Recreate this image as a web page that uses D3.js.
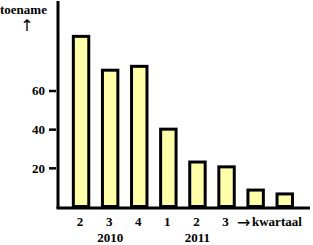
<!DOCTYPE html>
<html>
<head>
<meta charset="utf-8">
<script src="https://cdn.jsdelivr.net/npm/d3@7"></script>
<style>
body{margin:0;background:#fff;}
text{font-family:"Liberation Serif","Times New Roman",serif;font-weight:bold;font-size:13px;fill:#000;}
.arrow{font-family:"DejaVu Sans",sans-serif;font-weight:normal;font-size:16px;}
</style>
</head>
<body>
<div id="canvas"></div>
<script>
// data
var quarters = ['2','3','4','1','2','3','',''];
var values = [88, 70.5, 72.5, 40, 23, 20.5, 8.5, 6.5];
var years = [{label:'2010', at:1},{label:'2011', at:4}];
var yTicks = [20,40,60];

var W = 313, H = 245;
var svg = d3.select('#canvas').append('svg')
    .attr('width',W).attr('height',H);

var idx = values.map(function(d,i){return i;});
var scaleX = d3.scaleBand()
    .domain(idx)
    .range([66.5,299.3])
    .paddingInner(0.47)
    .paddingOuter(0.235);
var scaleY = d3.scaleLinear()
    .domain([0,60])
    .range([206.5,90.5]);

// bars
svg.selectAll('rect.bar')
    .data(values)
    .enter().append('rect')
    .attr('class','bar')
    .attr('x',function(d,i){return scaleX(i);})
    .attr('width',scaleX.bandwidth())
    .attr('y',function(d){return scaleY(d);})
    .attr('height',function(d){return scaleY(0)-scaleY(d);})
    .attr('fill','#ffffaa')
    .attr('stroke','#000')
    .attr('stroke-width',3);

// y axis
var axisY = d3.axisLeft(scaleY)
    .tickValues(yTicks)
    .tickSizeOuter(0)
    .tickSize(7)
    .tickPadding(4);
var gy = svg.append('g').attr('transform','translate(56,0)').call(axisY);
gy.select('.domain').remove();
gy.selectAll('.tick line').attr('stroke','#000').attr('stroke-width',2.5);
gy.attr('font-family',null).attr('font-size',null);

svg.append('line')
    .attr('x1',58).attr('x2',58)
    .attr('y1',1).attr('y2',scaleY(0)+1.5)
    .attr('stroke','#000').attr('stroke-width',3);
svg.append('line')
    .attr('x1',56.5).attr('x2',310)
    .attr('y1',scaleY(0)+1.5).attr('y2',scaleY(0)+1.5)
    .attr('stroke','#000').attr('stroke-width',3);

// x labels
svg.selectAll('text.q')
    .data(quarters)
    .enter().append('text')
    .attr('class','q')
    .attr('x',function(d,i){return scaleX(i)+scaleX.bandwidth()/2-1;})
    .attr('y',225.5)
    .attr('text-anchor','middle')
    .text(function(d){return d;});

svg.selectAll('text.yr')
    .data(years)
    .enter().append('text')
    .attr('class','yr')
    .attr('x',function(d){return scaleX(d.at)+scaleX.bandwidth()/2;})
    .attr('y',241.5)
    .attr('text-anchor','middle')
    .text(function(d){return d.label;});

svg.append('text').attr('class','arrow').attr('x',237).attr('y',227.5).text('\u2192');
svg.append('text').attr('x',252).attr('y',225.5).text('kwartaal');
svg.append('text').attr('x',0).attr('y',14).text('toename');
svg.append('text').attr('class','arrow').attr('x',27).attr('y',31).attr('text-anchor','middle').text('\u2191');
</script>
</body>
</html>
